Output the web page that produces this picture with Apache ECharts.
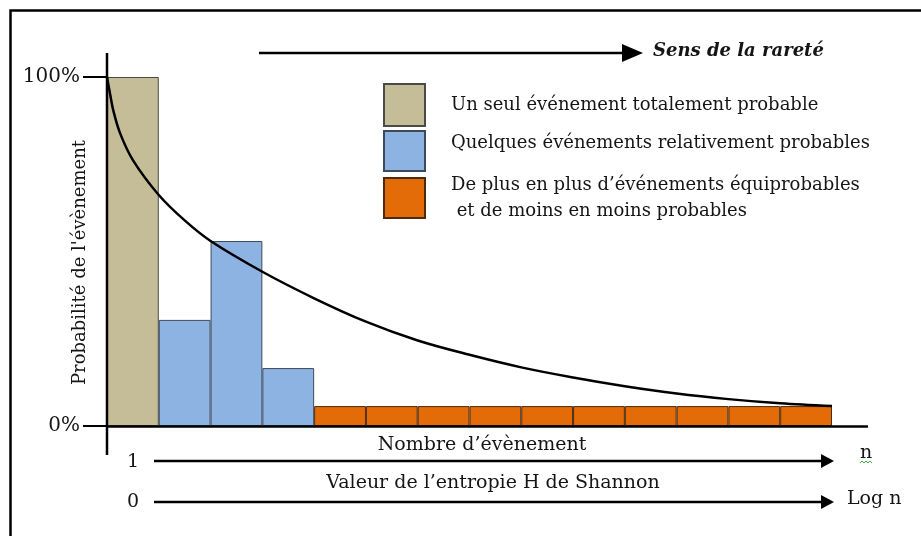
<!DOCTYPE html>
<html>
<head>
<meta charset="utf-8">
<script src="https://cdn.jsdelivr.net/npm/echarts@6/dist/echarts.min.js"></script>
<style>
  html, body { margin: 0; padding: 0; background: #fff; }
  #chart { width: 921px; height: 536px; }
</style>
</head>
<body>
<div id="chart"></div>
<script>
// events, ordered from most probable to rarest
const events = ["1", "2", "3", "4", "5", "6", "7", "8", "9", "10", "11", "12", "13", "14"];

// probabilities (%) of each group of events
const certainProb = [100];
const relativeProb = [30.4, 53.0, 16.6];
const equiProb = [5.7, 5.7, 5.7, 5.7, 5.7, 5.7, 5.7, 5.7, 5.7, 5.7];

// decreasing curve, x in event units (0 = left edge of first bar)
const curveX = [0, 0.06, 0.12, 0.25, 0.5, 1, 1.5, 2, 3, 4, 5, 6, 7, 8, 9, 10, 11, 12, 13, 14];
const curveY = [100, 95.1, 90.5, 84.0, 76.2, 66.2, 58.9, 53.0, 44.2, 36.6, 29.9, 24.5, 20.4, 16.8, 13.9, 11.4, 9.3, 7.7, 6.5, 5.7];

const yTicks = ["0%", "100%"];

const seriesNames = [
  "Un seul événement totalement probable",
  "Quelques événements relativement probables",
  "De plus en plus d’événements équiprobables\n et de moins en moins probables"
];

const FONT = "DejaVu Serif";
const TXT = "#151515";

// place each group in its own slots, '-' elsewhere
function slot(values, start) {
  return events.map((_, i) => (i >= start && i < start + values.length ? values[i - start] : "-"));
}

// one legend block per group so each can sit where it does in the original
function legendBlock(name, top, itemHeight, lift) {
  return {
    orient: "vertical",
    left: 383,
    top: top,
    padding: 0,
    itemWidth: 41,
    itemHeight: itemHeight,
    icon: "rect",
    selectedMode: false,
    data: [name],
    formatter: (n) => `{t|${n}}`,
    textStyle: {
      fontFamily: FONT, fontSize: 18, color: TXT, lineHeight: 26, padding: [0, 0, 0, 21],
      rich: { t: { fontFamily: FONT, fontSize: 18, color: TXT, lineHeight: 26, padding: [0, 0, lift, 0] } }
    }
  };
}

const chart = echarts.init(document.getElementById("chart"));

const option = {
  animation: false,
  backgroundColor: "#fff",
  textStyle: { fontFamily: FONT, color: TXT },
  grid: { left: 107, right: 89, top: 77, bottom: 110, outerBoundsMode: "none" },
  legend: [
    legendBlock(seriesNames[0], 83, 42, 0),
    legendBlock(seriesNames[1], 130, 40, 16),
    legendBlock(seriesNames[2], 172, 40, 0)
  ],
  xAxis: [
    {
      type: "category",
      data: events,
      axisLine: { show: false },
      axisTick: { show: false },
      axisLabel: { show: false }
    },
    {
      type: "value",
      min: 0,
      max: 14,
      show: false
    }
  ],
  yAxis: {
    type: "value",
    min: 0,
    max: 100,
    interval: 100,
    name: "Probabilité de l'évènement",
    nameLocation: "middle",
    nameRotate: 90,
    nameGap: 18,
    nameMoveOverlap: false,
    nameTextStyle: { fontFamily: FONT, fontSize: 18, color: TXT, padding: [0, 22, 0, 0] },
    axisLine: { show: false },
    axisTick: { show: true, length: 24, lineStyle: { color: "#000", width: 2 } },
    splitLine: { show: false },
    axisLabel: {
      margin: 27,
      fontFamily: FONT,
      fontSize: 20,
      color: TXT,
      formatter: (v) => (v === 0 ? yTicks[0] : yTicks[1])
    }
  },
  series: [
    {
      name: seriesNames[0],
      type: "bar",
      stack: "p",
      barCategoryGap: "0%",
      data: slot(certainProb, 0),
      itemStyle: { color: "#C4BD97", borderColor: "#4a4a48", borderWidth: 1 }
    },
    {
      name: seriesNames[1],
      type: "bar",
      stack: "p",
      data: slot(relativeProb, certainProb.length),
      itemStyle: { color: "#8DB3E2", borderColor: "#3c4a5c", borderWidth: 1 }
    },
    {
      name: seriesNames[2],
      type: "bar",
      stack: "p",
      data: slot(equiProb, certainProb.length + relativeProb.length),
      itemStyle: { color: "#E36C09", borderColor: "#4d2a0c", borderWidth: 1 }
    },
    {
      type: "line",
      xAxisIndex: 1,
      smooth: 0.35,
      symbol: "none",
      z: 5,
      data: curveX.map((x, i) => [x, curveY[i]]),
      lineStyle: { color: "#000", width: 2.5 }
    }
  ],
  graphic: [
    // outer frame (right and bottom edges fall off the picture)
    { type: "rect", shape: { x: 10.5, y: 10.5, width: 1000, height: 1000 }, style: { fill: "none", stroke: "#000", lineWidth: 2.5 } },
    // extended axes
    { type: "line", shape: { x1: 107, y1: 53, x2: 107, y2: 455 }, style: { stroke: "#000", lineWidth: 2.5 }, z: 10 },
    { type: "line", shape: { x1: 107, y1: 426.5, x2: 868, y2: 426.5 }, style: { stroke: "#000", lineWidth: 2.5 }, z: 10 },
    // "Sens de la rareté" arrow
    { type: "line", shape: { x1: 259, y1: 53, x2: 625, y2: 53 }, style: { stroke: "#000", lineWidth: 2.5 } },
    { type: "polygon", shape: { points: [[622, 44], [643, 53], [622, 62]] }, style: { fill: "#000" } },
    { type: "text", left: 653, top: 42, style: { text: "Sens de la rareté", fontFamily: FONT, fontSize: 18, fontStyle: "italic", fontWeight: "bold", fill: TXT } },
    // n axis
    { type: "text", style: { x: 482, y: 445, text: "Nombre d’évènement", align: "center", verticalAlign: "middle", fontFamily: FONT, fontSize: 19, fill: TXT } },
    { type: "text", style: { x: 133, y: 462, text: "1", align: "center", verticalAlign: "middle", fontFamily: FONT, fontSize: 19, fill: TXT } },
    { type: "line", shape: { x1: 154, y1: 461, x2: 824, y2: 461 }, style: { stroke: "#000", lineWidth: 2.5 } },
    { type: "polygon", shape: { points: [[821, 454], [834, 461], [821, 468]] }, style: { fill: "#000" } },
    { type: "text", style: { x: 860, y: 453, text: "n", verticalAlign: "middle", fontFamily: FONT, fontSize: 19, fill: TXT } },
    { type: "polyline", shape: { points: [[860, 463], [862, 461], [864, 463], [866, 461], [868, 463], [870, 461], [872, 463]] }, style: { stroke: "#3cae3c", lineWidth: 1, fill: "none" } },
    // log n axis
    { type: "text", style: { x: 493, y: 483, text: "Valeur de l’entropie H de Shannon", align: "center", verticalAlign: "middle", fontFamily: FONT, fontSize: 19, fill: TXT } },
    { type: "text", style: { x: 133, y: 502, text: "0", align: "center", verticalAlign: "middle", fontFamily: FONT, fontSize: 19, fill: TXT } },
    { type: "line", shape: { x1: 154, y1: 502, x2: 824, y2: 502 }, style: { stroke: "#000", lineWidth: 2.5 } },
    { type: "polygon", shape: { points: [[821, 495], [834, 502], [821, 509]] }, style: { fill: "#000" } },
    { type: "text", style: { x: 847, y: 499, text: "Log n", verticalAlign: "middle", fontFamily: FONT, fontSize: 19, fill: TXT } }
  ]
};

chart.setOption(option);
window.addEventListener("resize", () => chart.resize());
</script>
</body>
</html>
